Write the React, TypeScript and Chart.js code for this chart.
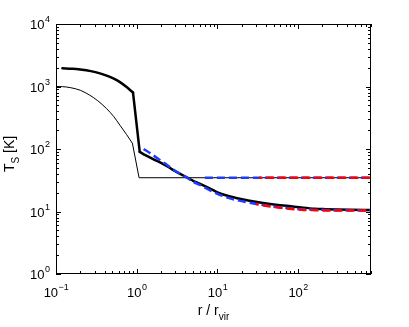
import React, { useEffect, useRef } from "react";
import { Chart, registerables } from "chart.js";
Chart.register(...registerables);

// Axis ranges (log-log)
const X_MIN = 0.1;
const X_MAX = 800;
const Y_MIN = 1;
const Y_MAX = 10000;

// Tick label exponents
const xTickExps = [-1, 0, 1, 2];
const yTickExps = [0, 1, 2, 3, 4];

// Thick black curve: inner (smooth) part, jump, outer (smooth) part
const thickInnerX = [0.12, 0.16, 0.2, 0.27, 0.35, 0.45, 0.55, 0.62, 0.75, 0.9];
const thickInnerY = [1950, 1923, 1870, 1762, 1622, 1449, 1285, 1175, 979, 800];
const thickOuterX = [0.9, 1.09, 1.3, 1.6, 2, 2.5, 3, 3.6, 4.3, 5, 6, 8, 10, 13, 17, 25, 35, 50, 77, 110, 160, 220, 300, 450, 800];
const thickOuterY = [800, 90, 79, 69, 60, 51, 44, 39, 34.5, 31, 28, 23.5, 20.3, 18, 16.5, 14.9, 13.8, 12.9, 12.2, 11.6, 11.1, 10.9, 10.75, 10.65, 10.6];

// Thin black curve
const thinInnerX = [0.1, 0.12, 0.15, 0.2, 0.263, 0.33, 0.42, 0.52, 0.62, 0.75, 0.885];
const thinInnerY = [1000, 995, 960, 870, 724, 590, 447, 330, 240, 170, 123];
const thinOuterX = [0.885, 1.07, 800];
const thinOuterY = [123, 34.7, 34.7];

// Blue dashed curve
const blueX = [1.22, 1.5, 2, 2.5, 3, 3.6, 4.3, 5, 6, 8, 10, 13, 17, 25, 35, 50, 77, 110, 160, 220, 300, 450, 800];
const blueY = [100, 84, 65, 53, 45, 39, 34, 30, 26.8, 22, 19.2, 16.8, 15.3, 13.8, 12.8, 12, 11.3, 10.9, 10.7, 10.6, 10.5, 10.5, 10.5];

// Red dashed curve
const redX = [30, 35, 50, 77, 110, 160, 220, 300, 450, 800];
const redY = [13.2, 12.7, 11.8, 11.1, 10.7, 10.5, 10.4, 10.4, 10.4, 10.4];

// Flat dashed lines
const blueFlatX = [7, 800];
const blueFlatY = [34.7, 34.7];
const redFlatX = [33, 800];
const redFlatY = [34.7, 34.7];

const BLUE = "rgb(30,60,255)";
const RED = "rgb(255,0,0)";
const FONT = "'Liberation Sans', Arial, Helvetica, sans-serif";

const pts = (xs: number[], ys: number[]) => xs.map((x, i) => ({ x, y: ys[i] }));

const supers = (exp: number) => (exp < 0 ? "\u2212" + Math.abs(exp) : String(exp));

const frame = {
  id: "matlabFrame",
  afterDraw(chart: any) {
    const { ctx, chartArea } = chart;
    const { left, right, top, bottom } = chartArea;
    const xs = chart.scales.x;
    const ys = chart.scales.y;
    ctx.save();
    ctx.strokeStyle = "#000";
    ctx.lineWidth = 1;
    ctx.strokeRect(Math.round(left) + 0.5, Math.round(top) + 0.5, Math.round(right - left) - 1, Math.round(bottom - top) - 1);

    // ticks
    ctx.beginPath();
    for (let d = -1; d <= 3; d++) {
      for (let m = 1; m <= 9; m++) {
        const v = m * Math.pow(10, d);
        if (v < X_MIN - 1e-9 || v > X_MAX + 1e-9) continue;
        const px = Math.round(xs.getPixelForValue(v)) + 0.5;
        const len = m === 1 ? 5 : 3;
        ctx.moveTo(px, bottom);
        ctx.lineTo(px, bottom - len);
        ctx.moveTo(px, top);
        ctx.lineTo(px, top + len);
      }
    }
    for (let d = 0; d <= 4; d++) {
      for (let m = 1; m <= 9; m++) {
        const v = m * Math.pow(10, d);
        if (v < Y_MIN - 1e-9 || v > Y_MAX + 1e-9) continue;
        const py = Math.round(ys.getPixelForValue(v)) + 0.5;
        const len = m === 1 ? 5 : 3;
        ctx.moveTo(left, py);
        ctx.lineTo(left + len, py);
        ctx.moveTo(right, py);
        ctx.lineTo(right - len, py);
      }
    }
    ctx.stroke();

    // tick labels
    ctx.fillStyle = "#000";
    ctx.textBaseline = "alphabetic";
    ctx.textAlign = "left";
    const big = `13px ${FONT}`;
    const small = `9px ${FONT}`;
    for (const e of xTickExps) {
      const px = xs.getPixelForValue(Math.pow(10, e));
      ctx.font = big;
      const w1 = ctx.measureText("10").width;
      ctx.font = small;
      const s = supers(e);
      const w2 = ctx.measureText(s).width;
      const x0 = px - (w1 + w2) / 2;
      ctx.font = big;
      ctx.fillText("10", x0, bottom + 23);
      ctx.font = small;
      ctx.fillText(s, x0 + w1 + 0.5, bottom + 16);
    }
    for (const e of yTickExps) {
      const py = ys.getPixelForValue(Math.pow(10, e));
      ctx.font = small;
      const s = supers(e);
      const w2 = ctx.measureText(s).width;
      ctx.font = big;
      const w1 = ctx.measureText("10").width;
      const x1 = left - 6;
      ctx.font = big;
      ctx.fillText("10", x1 - w2 - w1 - 0.5, py + 5);
      ctx.font = small;
      ctx.fillText(s, x1 - w2, py - 2);
    }

    // x title
    const tf = `14px ${FONT}`;
    const tfs = `10px ${FONT}`;
    ctx.font = tf;
    const a = "r / r";
    const wa = ctx.measureText(a).width;
    ctx.font = tfs;
    const b = "vir";
    const wb = ctx.measureText(b).width;
    const cx = (left + right) / 2;
    const xa = cx - (wa + wb) / 2;
    ctx.font = tf;
    ctx.fillText(a, xa, bottom + 41);
    ctx.font = tfs;
    ctx.fillText(b, xa + wa, bottom + 46);

    // y title
    ctx.save();
    const cy = (top + bottom) / 2 + 5;
    ctx.translate(14, cy);
    ctx.rotate(-Math.PI / 2);
    ctx.font = tf;
    const t1 = "T";
    const t3 = " [K]";
    const w1 = ctx.measureText(t1).width;
    const w3 = ctx.measureText(t3).width;
    ctx.font = tfs;
    const t2 = "S";
    const w2 = ctx.measureText(t2).width;
    const start = -(w1 + w2 + w3) / 2;
    ctx.font = tf;
    ctx.fillText(t1, start, 0);
    ctx.font = tfs;
    ctx.fillText(t2, start + w1, 5);
    ctx.font = tf;
    ctx.fillText(t3, start + w1 + w2, 0);
    ctx.restore();

    ctx.restore();
  },
};

export default function App() {
  const ref = useRef<HTMLCanvasElement | null>(null);
  useEffect(() => {
    if (!ref.current) return;
    const dashed = (data: any, color: string, offset = 0) => ({
      data,
      borderColor: color,
      borderWidth: 2.5,
      borderDash: [8, 4],
      borderDashOffset: offset,
      pointRadius: 0,
      showLine: true,
      fill: false,
      cubicInterpolationMode: "monotone",
    });
    const solid = (data: any, width: number, smooth: boolean) => ({
      data,
      borderColor: "#000",
      borderWidth: width,
      borderCapStyle: "round",
      borderJoinStyle: "round",
      pointRadius: 0,
      showLine: true,
      fill: false,
      tension: 0,
      cubicInterpolationMode: smooth ? "monotone" : "default",
    });
    const chart = new Chart(ref.current, {
      type: "scatter",
      data: {
        datasets: [
          dashed(pts(redX, redY), RED, 5),
          dashed(pts(redFlatX, redFlatY), RED, 5),
          dashed(pts(blueX, blueY), BLUE),
          dashed(pts(blueFlatX, blueFlatY), BLUE),
          solid(pts(thickInnerX, thickInnerY), 2.5, true),
          solid(pts(thickOuterX.slice(0, 2), thickOuterY.slice(0, 2)), 2.5, false),
          solid(pts(thickOuterX.slice(1), thickOuterY.slice(1)), 2.5, true),
          solid(pts(thinInnerX, thinInnerY), 1, true),
          solid(pts(thinOuterX, thinOuterY), 1, false),
        ] as any,
      },
      options: {
        responsive: false,
        animation: false,
        devicePixelRatio: 1,
        layout: { padding: { left: 0, top: 24, right: 38, bottom: 0 } },
        plugins: { legend: { display: false }, tooltip: { enabled: false } },
        events: [],
        scales: {
          x: {
            type: "logarithmic",
            min: X_MIN,
            max: X_MAX,
            grid: { display: false },
            border: { display: false },
            ticks: { display: false },
            afterFit: (s: any) => {
              s.height = 53;
            },
          },
          y: {
            type: "logarithmic",
            min: Y_MIN,
            max: Y_MAX,
            grid: { display: false },
            border: { display: false },
            ticks: { display: false },
            afterFit: (s: any) => {
              s.width = 56;
            },
          },
        },
      } as any,
      plugins: [frame],
    });
    return () => chart.destroy();
  }, []);
  return (
    <div style={{ position: "fixed", left: 0, top: 0, width: 409, height: 327, background: "#fff" }}>
      <canvas ref={ref} width={409} height={327} style={{ display: "block" }} />
    </div>
  );
}
